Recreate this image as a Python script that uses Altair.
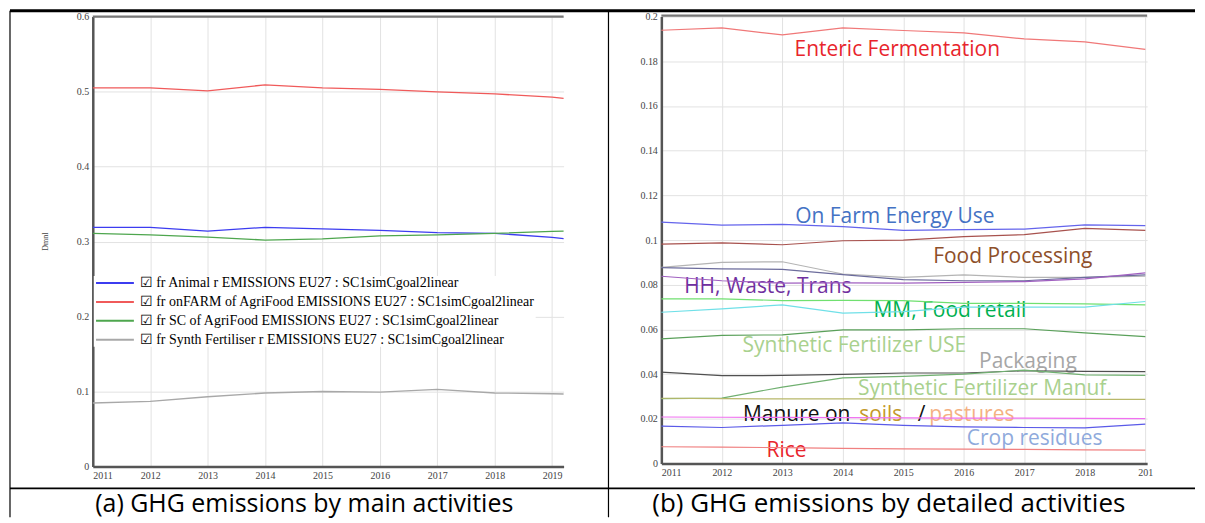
import altair as alt
import pandas as pd

# ---------------- Panel (a): main activities ----------------
years_a = [2011, 2012, 2013, 2014, 2015, 2016, 2017, 2018, 2019, 2019.2]
series_a = [
    "fr Animal r EMISSIONS EU27 : SC1simCgoal2linear",
    "fr onFARM of AgriFood EMISSIONS EU27 : SC1simCgoal2linear",
    "fr SC of AgriFood EMISSIONS EU27 : SC1simCgoal2linear",
    "fr Synth Fertiliser r EMISSIONS EU27 : SC1simCgoal2linear",
]
animal = [0.319, 0.319, 0.314, 0.319, 0.317, 0.315, 0.312, 0.311, 0.3055, 0.304]
onfarm = [0.505, 0.505, 0.501, 0.509, 0.505, 0.503, 0.4995, 0.497, 0.4925, 0.491]
sc_agri = [0.311, 0.309, 0.306, 0.302, 0.3035, 0.3075, 0.309, 0.311, 0.3135, 0.314]
synth = [0.0847, 0.0869, 0.093, 0.098, 0.100, 0.0993, 0.1028, 0.098, 0.097, 0.0967]
colors_a = ["#3c3cf0", "#f05a5a", "#4ea64e", "#a8a8a8"]
yticks_a = [0, 0.1, 0.2, 0.3, 0.4, 0.5, 0.6]
xticks = [2011, 2012, 2013, 2014, 2015, 2016, 2017, 2018, 2019]

# ---------------- Panel (b): detailed activities ----------------
years_b = [2011, 2012, 2013, 2014, 2015, 2016, 2017, 2018, 2019]
series_b = [
    "Enteric Fermentation", "On Farm Energy Use", "Food Processing", "Transport",
    "Waste", "Households", "MM", "Food retail", "Synthetic Fertilizer USE",
    "Packaging", "Synthetic Fertilizer Manuf.", "Manure on soils",
    "Manure on pastures", "Crop residues", "Rice",
]
enteric = [0.1939, 0.195, 0.1918, 0.195, 0.1938, 0.1927, 0.190, 0.1887, 0.1853]
energy = [0.108, 0.1067, 0.107, 0.106, 0.1043, 0.1047, 0.1049, 0.1068, 0.1065]
food_proc = [0.0982, 0.0987, 0.0979, 0.0997, 0.100, 0.1015, 0.1024, 0.1052, 0.1043]
transport = [0.0878, 0.090, 0.0903, 0.0848, 0.0833, 0.0844, 0.0833, 0.0833, 0.0838]
waste = [0.0877, 0.0871, 0.0869, 0.0845, 0.0823, 0.0818, 0.0818, 0.0833, 0.0844]
households = [0.0838, 0.0818, 0.0807, 0.0808, 0.0807, 0.0811, 0.0814, 0.0826, 0.0853]
mm = [0.0737, 0.0737, 0.0729, 0.073, 0.0729, 0.0717, 0.0717, 0.0714, 0.071]
retail = [0.0677, 0.0692, 0.071, 0.0673, 0.068, 0.070, 0.070, 0.070, 0.0725]
fert_use = [0.0558, 0.0573, 0.0576, 0.0598, 0.0598, 0.0603, 0.0603, 0.0585, 0.0568]
packaging = [0.0409, 0.0393, 0.0394, 0.0399, 0.0405, 0.0405, 0.0415, 0.0412, 0.0411]
fert_manuf = [0.029, 0.0293, 0.0342, 0.0383, 0.039, 0.040, 0.0418, 0.0397, 0.0394]
manure_soils = [0.0292, 0.029, 0.0289, 0.0289, 0.0289, 0.0288, 0.0288, 0.0287, 0.0287]
manure_past = [0.0208, 0.0207, 0.0206, 0.0205, 0.0204, 0.0203, 0.0203, 0.0202, 0.0201]
crop_res = [0.0167, 0.0161, 0.0171, 0.0182, 0.0171, 0.0164, 0.0161, 0.0159, 0.0176]
rice = [0.0075, 0.0073, 0.0071, 0.0068, 0.0065, 0.0064, 0.0063, 0.0061, 0.006]
colors_b = ["#f07878", "#6464ec", "#a8524e", "#b4b4b4", "#6c6c9c", "#a060c0",
            "#70e070", "#70e0e8", "#5aa05a", "#505050", "#70b070", "#b8b86a",
            "#f070f0", "#5a5ae8", "#f08080"]
yticks_b = [0, 0.02, 0.04, 0.06, 0.08, 0.1, 0.12, 0.14, 0.16, 0.18, 0.2]

# annotation labels of panel (b), anchored in data coordinates
ann_text = ["Enteric Fermentation", "On Farm Energy Use", "Food Processing",
            "HH, Waste, Trans", "MM, Food retail", "Synthetic Fertilizer USE",
            "Packaging", "Synthetic Fertilizer Manuf.", "Crop residues", "Rice"]
ann_year = [2014.9, 2014.86, 2016.81, 2012.76, 2015.77, 2014.19, 2017.06, 2016.35, 2017.17, 2013.07]
ann_value = [0.1850, 0.1104, 0.0926, 0.0792, 0.0684, 0.0528, 0.0452, 0.0334, 0.0109, 0.0055]
ann_color = ["#e8242c", "#4472c4", "#8e4f2a", "#7030a0", "#00b050", "#a9d18e",
             "#a6a6a6", "#a9d18e", "#8faadc", "#e8242c"]
manure_text = ["Manure on", "soils", "/", "pastures"]
manure_year = [2012.35, 2014.27, 2015.24, 2015.43]
manure_value = [0.0219, 0.0219, 0.0219, 0.0219]
manure_color = ["#111111", "#c49a2c", "#111111", "#f4b183"]

# ---------------- tables ----------------
vals_a = [animal, onfarm, sc_agri, synth]
df_a = pd.DataFrame([
    {"year": y, "value": v, "series": s}
    for s, vs in zip(series_a, vals_a) for y, v in zip(years_a, vs)
])
vals_b = [enteric, energy, food_proc, transport, waste, households, mm, retail,
          fert_use, packaging, fert_manuf, manure_soils, manure_past, crop_res, rice]
df_b = pd.DataFrame([
    {"year": y, "value": v, "series": s}
    for s, vs in zip(series_b, vals_b) for y, v in zip(years_b, vs)
])
df_ann = pd.DataFrame({"year": ann_year, "value": ann_value, "text": ann_text, "color": ann_color})
df_man = pd.DataFrame({"year": manure_year, "value": manure_value, "text": manure_text, "color": manure_color})
one = pd.DataFrame({"k": [0]})

W_A, H_A = 472, 451
W_B, H_B = 487, 449
ANN_FONT = "Open Sans"

axis_common = dict(
    ticks=False, labelFont="Liberation Serif", labelFontSize=10, labelColor="#444",
    domainColor="#555", domainWidth=2.5, gridColor="#e2e2e2", gridWidth=1,
)

# ---------------- panel (a) ----------------
xa = alt.X("year:Q", scale=alt.Scale(domain=[2011, 2019.2], nice=False, zero=False),
           axis=alt.Axis(values=xticks, format="d", title=None, labelPadding=4, **axis_common))
ya = alt.Y("value:Q", scale=alt.Scale(domain=[0, 0.6], nice=False),
           axis=alt.Axis(values=yticks_a, format="~g", title="Dmnl", titleFont="Liberation Serif",
                         titleFontSize=8, titleFontWeight="normal", titleColor="#444",
                         titleX=-43, titleY=225, labelPadding=4, **axis_common))
lines_a = alt.Chart(df_a).mark_line(strokeWidth=1.3).encode(
    x=xa, y=ya,
    color=alt.Color("series:N", scale=alt.Scale(domain=series_a, range=colors_a),
                    legend=alt.Legend(orient="none", legendX=1, legendY=260, title=None,
                                      symbolType="M-1,0L7,0", symbolSize=90, symbolStrokeWidth=2,
                                      labelFont="Liberation Serif", labelFontSize=14,
                                      labelColor="black", labelExpr="'☑ ' + datum.label",
                                      labelLimit=0, labelOffset=32, fillColor="white",
                                      padding=0, rowPadding=5)),
)
top_a = alt.Chart(one).mark_rule(color="#777", strokeWidth=2.5).encode(
    x=alt.value(0), x2=alt.value(W_A), y=alt.value(0))
border_top = alt.Chart(one).mark_rule(color="black", strokeWidth=3).encode(
    x=alt.value(-83), x2=alt.value(1105), y=alt.value(-6))
border_cap = alt.Chart(one).mark_rule(color="black", strokeWidth=1.8).encode(
    x=alt.value(-83), x2=alt.value(1105), y=alt.value(473))
border_left = alt.Chart(one).mark_rule(color="black", strokeWidth=1.2).encode(
    x=alt.value(-83), y=alt.value(-6), y2=alt.value(502))
border_mid = alt.Chart(one).mark_rule(color="black", strokeWidth=1.2).encode(
    x=alt.value(517), y=alt.value(-6), y2=alt.value(502))
cap_a = alt.Chart(one).mark_text(font=ANN_FONT, fontSize=25, color="black").encode(
    x=alt.value(212), y=alt.value(489), text=alt.value("(a) GHG emissions by main activities"))

panel_a = alt.layer(border_top, border_cap, border_left, border_mid, cap_a, lines_a, top_a).properties(
    width=W_A, height=H_A)

# ---------------- panel (b) ----------------
xb = alt.X("year:Q", scale=alt.Scale(domain=[2011, 2019.03], nice=False, zero=False),
           axis=alt.Axis(values=xticks, format="d", title=None, labelPadding=4,
                         labelExpr="datum.value == 2019 ? '201' : datum.label", **axis_common))
yb = alt.Y("value:Q", scale=alt.Scale(domain=[0, 0.2], nice=False),
           axis=alt.Axis(values=yticks_b, format="~g", title=None, labelPadding=4, **axis_common))
lines_b = alt.Chart(df_b).mark_line(strokeWidth=1.2).encode(
    x=xb, y=yb,
    color=alt.Color("series:N", scale=alt.Scale(domain=series_b, range=colors_b), legend=None),
)
ann_b = alt.Chart(df_ann).mark_text(font=ANN_FONT, fontSize=21, align="center", baseline="middle").encode(
    x=alt.X("year:Q"), y=alt.Y("value:Q"), text="text:N", color=alt.Color("color:N", scale=None))
man_b = alt.Chart(df_man).mark_text(font=ANN_FONT, fontSize=21, align="left", baseline="middle").encode(
    x=alt.X("year:Q"), y=alt.Y("value:Q"), text="text:N", color=alt.Color("color:N", scale=None))
top_b = alt.Chart(one).mark_rule(color="#777", strokeWidth=2.5).encode(
    x=alt.value(0), x2=alt.value(W_B), y=alt.value(-1))
cap_b = alt.Chart(one).mark_text(font=ANN_FONT, fontSize=26, color="black").encode(
    x=alt.value(228), y=alt.value(489), text=alt.value("(b) GHG emissions by detailed activities"))

panel_b = alt.layer(ann_b, man_b, lines_b, top_b, cap_b).properties(width=W_B, height=H_B - 1)

chart = alt.hconcat(panel_a, panel_b, spacing=98, bounds="flush").resolve_scale(
    color="independent").configure_view(stroke=None).properties(
    padding={"left": 0, "top": 0, "right": 0, "bottom": 0}, background="white")

chart.save("out.html", embed_options={"renderer": "svg", "actions": False})
